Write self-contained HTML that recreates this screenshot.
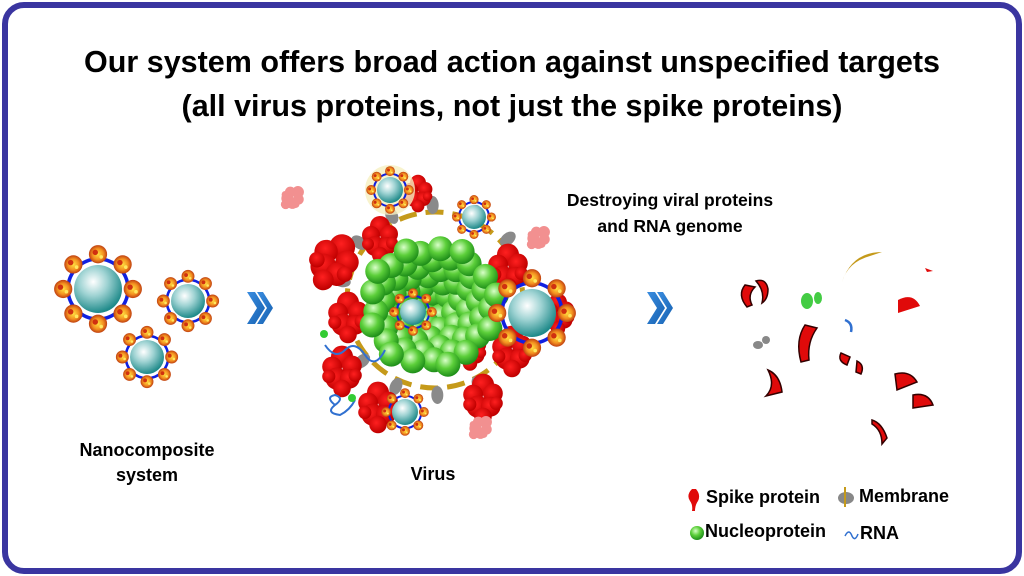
<!DOCTYPE html>
<html><head><meta charset="utf-8"><style>
html,body{margin:0;padding:0;background:#fff;}
body{width:1024px;height:576px;overflow:hidden;position:relative;font-family:"Liberation Sans",sans-serif;}
.frame{position:absolute;left:2px;top:2px;width:1008px;height:560px;border:6px solid #3a35a0;border-radius:22px;}
.t{position:absolute;font-weight:bold;color:#000;text-align:center;white-space:nowrap;}
svg{position:absolute;left:0;top:0;}
</style></head><body>
<div class="frame"></div>
<svg id="s" width="1024" height="576" viewBox="0 0 1024 576">
<defs>
<radialGradient id="sph" cx="40%" cy="35%" r="65%"><stop offset="0" stop-color="#ffffff"/><stop offset="0.45" stop-color="#9fd3d3"/><stop offset="1" stop-color="#1f8a8a"/></radialGradient>
<radialGradient id="gr" cx="40%" cy="35%" r="65%"><stop offset="0" stop-color="#d8ffc8"/><stop offset="0.5" stop-color="#5ccf3a"/><stop offset="1" stop-color="#1f8f1a"/></radialGradient>
<radialGradient id="fl" cx="50%" cy="50%" r="50%"><stop offset="0" stop-color="#ffe040"/><stop offset="0.6" stop-color="#f39020"/><stop offset="1" stop-color="#c04010"/></radialGradient>
<radialGradient id="rd" cx="40%" cy="40%" r="60%"><stop offset="0" stop-color="#ff2020"/><stop offset="1" stop-color="#c00000"/></radialGradient>
<linearGradient id="arr" x1="0" y1="0" x2="1" y2="1"><stop offset="0" stop-color="#3a8de0"/><stop offset="1" stop-color="#1560b0"/></linearGradient>
</defs>
<g id="virus"></g>
<g id="nps"></g>
<g id="frag"></g>
</svg>
<div class="t" style="left:0;width:1024px;top:40px;font-size:30.5px;line-height:44px;">Our system offers broad action against unspecified targets<br>(all virus proteins, not just the spike proteins)</div>
<div class="t" style="left:520px;width:300px;top:187px;font-size:17.5px;line-height:26px;">Destroying viral proteins<br>and RNA genome</div>
<div class="t" style="left:47px;width:200px;top:438px;font-size:18px;line-height:25px;">Nanocomposite<br>system</div>
<div class="t" style="left:383px;width:100px;top:464px;font-size:18px;">Virus</div>
<div class="t" style="left:706px;top:487px;font-size:18px;">Spike protein</div>
<div class="t" style="left:859px;top:486px;font-size:18px;">Membrane</div>
<div class="t" style="left:705px;top:521px;font-size:18px;">Nucleoprotein</div>
<div class="t" style="left:860px;top:523px;font-size:18px;">RNA</div>
<script>
var NS="http://www.w3.org/2000/svg";
function el(p,t,a){var e=document.createElementNS(NS,t);for(var k in a)e.setAttribute(k,a[k]);document.getElementById(p).appendChild(e);return e;}
function np(p,x,y,r){
 var R=r*1.25,F=r*1.45,fs=r*0.38;
 el(p,"circle",{cx:x,cy:y,r:R,fill:"none",stroke:"#1020e0","stroke-width":Math.max(2,r*0.15)});
 el(p,"circle",{cx:x,cy:y,r:r,fill:"url(#sph)"});
 for(var i=0;i<8;i++){var a=i*Math.PI/4;var fx=x+F*Math.cos(a),fy=y+F*Math.sin(a);
  el(p,"circle",{cx:fx,cy:fy,r:fs,fill:"url(#fl)"});
  el(p,"circle",{cx:fx-fs*0.3,cy:fy-fs*0.2,r:fs*0.3,fill:"#d03010"});
  el(p,"circle",{cx:fx+fs*0.35,cy:fy+fs*0.3,r:fs*0.2,fill:"#ffe860"});}
}
function blob(x,y,s,c,rot){var g=el("virus","g",{transform:"translate("+x+","+y+") rotate("+(rot||0)+") scale("+s+")"});
 var pts=[[0,-14,10],[-9,-5,9],[9,-6,9],[-5,6,10],[7,6,9],[0,15,8],[-12,4,6],[12,3,6]];
 pts.forEach(function(q){var e=document.createElementNS(NS,"circle");e.setAttribute("cx",q[0]);e.setAttribute("cy",q[1]);e.setAttribute("r",q[2]);e.setAttribute("fill",c);g.appendChild(e);});}
var cx=432,cy=305;
el("virus","circle",{cx:cx+3,cy:cy-5,r:88,fill:"none",stroke:"#c59a1a","stroke-width":5,"stroke-dasharray":"18 9"});
for(var i=0;i<14;i++){var a=i*2*Math.PI/14+0.2;var ex=cx+3+95*Math.cos(a),ey=cy-5+95*Math.sin(a);el("virus","ellipse",{cx:ex,cy:ey,rx:9,ry:6,fill:"#8a8a8a",transform:"rotate("+(a*180/Math.PI)+" "+ex+" "+ey+")"});}
[[333,263,1.3,30],[348,318,1.1],[342,372,1.1],[380,240,1.0],[378,408,1.1],[483,400,1.1],[470,350,0.9],[508,270,1.1],[512,352,1.1],[558,315,0.9],[418,194,0.8]].forEach(function(b){blob(b[0],b[1],b[2],"url(#rd)",b[3]||0);});
[[292,198],[538,238],[480,428]].forEach(function(b){blob(b[0],b[1],0.6,"#f29090",45);});
for(var k=0;k<70;k++){var a=k*2.4,rr=66*Math.sqrt((k+0.5)/70);el("virus","circle",{cx:cx+rr*Math.cos(a),cy:cy+rr*Math.sin(a)*0.95,r:12.5,fill:"url(#gr)"});}
el("virus","path",{d:"M325 345 q10 15 20 5 t20 5 t20 -5",fill:"none",stroke:"#3070d0","stroke-width":2});
el("virus","circle",{cx:324,cy:334,r:4,fill:"#3c3"});
el("virus","path",{d:"M335 405 q-10 -8 0 -10 q10 3 0 10 q-10 8 5 10 q10 -5 15 -15",fill:"none",stroke:"#3070d0","stroke-width":2});
el("virus","circle",{cx:352,cy:398,r:4,fill:"#3c3"});
el("virus","circle",{cx:390,cy:190,r:25,fill:"#f6f0c0",opacity:0.8});
np("nps",98,289,24);np("nps",188,301,17);np("nps",147,357,17);
np("nps",390,190,13);np("nps",474,217,12);np("nps",413,312,13);np("nps",532,313,24);np("nps",405,412,13);
function chev(x,y){el("nps","path",{d:"M"+x+" "+(y-16)+" l8 0 l10 16 l-10 16 l-8 0 l10 -16 z",fill:"url(#arr)"});
 el("nps","path",{d:"M"+(x+10)+" "+(y-16)+" l6 0 l10 16 l-10 16 l-6 0 l10 -16 z",fill:"url(#arr)"});}
chev(247,308);chev(647,308);
function frag(d,c,s){el("frag","path",{d:d,fill:c,stroke:s||"#300","stroke-width":1.5});}
frag("M745 285 q-8 10 2 22 l5 -2 q-5 -10 3 -18 z","#e00a0a");
frag("M756 281 q10 -3 12 8 q0 10 -6 14 q3 -12 -6 -22 z","#e00a0a");
frag("M805 325 q-10 15 -4 37 l8 -2 q-2 -18 8 -32 z","#e00a0a");
frag("M768 370 q12 5 14 22 l-16 4 q10 -10 2 -26 z","#e00a0a");
frag("M841 353 q-4 8 6 12 l3 -8 z","#e00a0a");frag("M857 361 q8 4 4 13 l-5 -2 z","#e00a0a");
frag("M895 374 q15 -4 22 8 l-20 8 z","#e00a0a");frag("M913 395 q15 -3 20 10 l-20 3 z","#e00a0a");
frag("M872 420 q10 3 15 18 l-5 6 q0 -14 -10 -20 z","#e00a0a");
frag("M898 300 q15 -8 22 6 l-22 7 z","#e00a0a","none");frag("M925 268 l8 3 l-6 1 z","#e00a0a","none");
el("frag","path",{d:"M842 282 q10 -30 40 -30 l-12 4 q-22 6 -28 26 z",fill:"#c59a1a"});
el("frag","ellipse",{cx:807,cy:301,rx:6,ry:8,fill:"#4c4"});el("frag","ellipse",{cx:818,cy:298,rx:4,ry:6,fill:"#4c4"});
el("frag","ellipse",{cx:758,cy:345,rx:5,ry:4,fill:"#888"});el("frag","ellipse",{cx:766,cy:340,rx:4,ry:4,fill:"#888"});
el("frag","path",{d:"M845 320 q8 3 6 12",fill:"none",stroke:"#3070d0","stroke-width":2.5});
el("frag","path",{d:"M692 489 q-6 6 -2 12 q3 4 2 10 l3 0 q0 -6 3 -10 q3 -6 -2 -12 z",fill:"#e00a0a"});
el("frag","ellipse",{cx:846,cy:498,rx:8,ry:6,fill:"#888"});el("frag","path",{d:"M845 487 l0 20",stroke:"#c59a1a","stroke-width":2});
el("frag","circle",{cx:697,cy:533,r:7,fill:"url(#gr)"});
el("frag","path",{d:"M845 536 q4 -8 7 0 q3 6 6 -2",fill:"none",stroke:"#3070d0","stroke-width":1.5});
</script>
</body></html>
